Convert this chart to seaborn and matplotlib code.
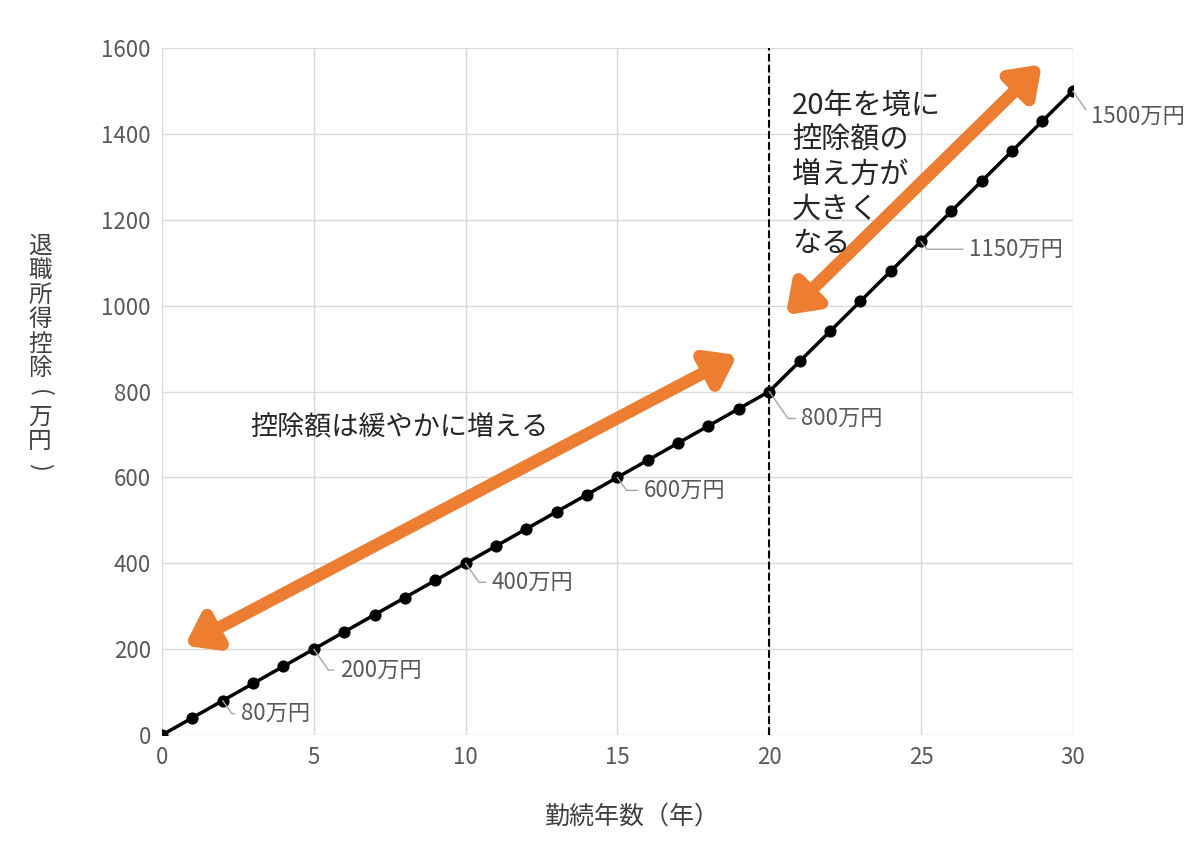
import matplotlib
matplotlib.use("Agg")
import matplotlib.pyplot as plt
import seaborn as sns
import pandas as pd

# 勤続年数と退職所得控除額（万円）
years = list(range(0, 31))
deduction = [0, 40, 80, 120, 160, 200, 240, 280, 320, 360,
             400, 440, 480, 520, 560, 600, 640, 680, 720, 760,
             800, 870, 940, 1010, 1080, 1150, 1220, 1290, 1360, 1430,
             1500]
label_years = [2, 5, 10, 15, 20, 25, 30]
# ラベル位置のずらし量（ピクセル）
label_offsets = [(18, -13), (26, -21), (26, -19), (26, -13), (32, -27), (48, -8), (18, -25)]
ylabel_chars = ["退", "職", "所", "得", "控", "除", "(", "万", "円", ")"]

df = pd.DataFrame({"year": years, "value": deduction})

sns.set_theme(style="white")
plt.rcParams["font.family"] = ["Noto Sans CJK JP", "DejaVu Sans"]

fig = plt.figure(figsize=(12, 8.5), dpi=100)
ax = fig.add_axes([0.135, 0.1353, 0.759, 0.8082])

sns.lineplot(data=df, x="year", y="value", ax=ax, color="black", linewidth=2.5,
             marker="o", markersize=8, markeredgecolor="black", zorder=3)

ax.set_xlim(0, 30)
ax.set_ylim(0, 1600)
ax.set_xticks(range(0, 31, 5))
ax.set_yticks(range(0, 1601, 200))
ax.grid(True, color="#d9d9d9", linewidth=1)
for s in ax.spines.values():
    s.set_visible(False)
ax.tick_params(axis="both", colors="#595959", labelsize=16, length=0, pad=8)

ax.set_xlabel("勤続年数（年）", fontsize=18, color="#404040")
ax.xaxis.set_label_coords(0.517, -0.1)
ax.set_ylabel("")

# 縦書きの軸ラベル
for i, ch in enumerate(ylabel_chars):
    ypix = 246 + 24.5 * i
    rot = -90 if ch in "()" else 0
    fig.text(40 / 1200, 1 - ypix / 850, ch, fontsize=17, color="#404040",
             ha="center", va="center", rotation=rot)

# 20年の破線
ax.axvline(20, color="black", linestyle="--", linewidth=1.5, zorder=2)

# 値ラベル
for yr, (dx, dy) in zip(label_years, label_offsets):
    v = deduction[years.index(yr)]
    ax.annotate(f"{v}万円", xy=(yr, v), xytext=(dx, dy), textcoords="offset pixels",
                ha="left", va="center", fontsize=16, color="#595959",
                arrowprops=dict(arrowstyle="-", color="#a6a6a6", lw=1,
                                shrinkA=2, shrinkB=0,
                                connectionstyle="angle,angleA=0,angleB=-55,rad=0"))

orange = "#ed7d31"
arrow_kw = dict(arrowstyle="<|-|>,head_length=1.4,head_width=1.0", color=orange, lw=9,
                shrinkA=0, shrinkB=0)
ax.annotate("", xy=(18.95, 885), xytext=(0.75, 208), arrowprops=arrow_kw)
ax.annotate("", xy=(28.98, 1562), xytext=(20.55, 978), arrowprops=arrow_kw)

ax.text(2.9, 715, "控除額は緩やかに増える", fontsize=19.5, color="#262626",
        ha="left", va="center")
ax.text(20.75, 1500, "20年を境に\n控除額の\n増え方が\n大きく\nなる", fontsize=21,
        color="#262626", ha="left", va="top", linespacing=1.2)

fig.savefig("out.png", dpi=100)
